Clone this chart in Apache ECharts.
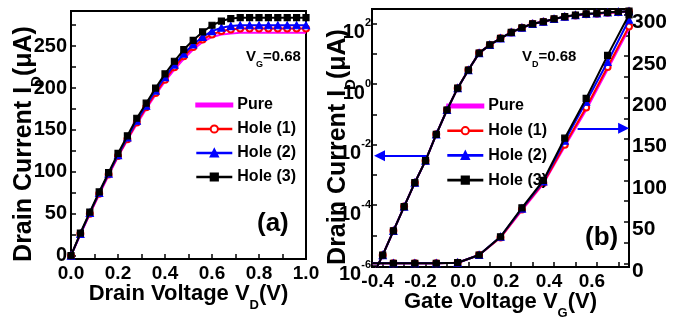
<!DOCTYPE html>
<html><head><meta charset="utf-8">
<script src="https://cdn.jsdelivr.net/npm/echarts@6/dist/echarts.min.js"></script>
<style>html,body{margin:0;padding:0;background:#fff}#c{width:681px;height:320px}</style>
</head><body><div id="c"></div>
<script>
// ---------- data ----------
const seriesNames = ['Pure', 'Hole (1)', 'Hole (2)', 'Hole (3)'];
// panel (a): drain current vs drain voltage (V_G = 0.68)
const vdX = [0,0.04,0.08,0.12,0.16,0.2,0.24,0.28,0.32,0.36,0.4,0.44,0.48,0.52,0.56,0.6,0.64,0.68,0.72,0.76,0.8,0.84,0.88,0.92,0.96,1.0];
const idPure  = [0,25,50,73,96,118,138,157,175,192,208,222,235,246,255,261,264,265,266,266,266,266,266,266,266,266];
const idHole1 = [0,26,50,74,97,119,139,159,177,194,210,225,238,249,258,264,268,270,271,271,271,271,271,271,271,271];
const idHole2 = [0,26,51,75,98,120,141,161,179,197,213,228,241,252,261,268,272,274,275,275,275,275,275,275,275,275];
const idHole3 = [0,27,52,76,99,122,143,164,182,200,217,232,246,257,267,275,280,283,284,284,284,284,284,284,284,284];
// panel (b): drain current vs gate voltage (V_D = 0.68), log scale (left axis)
const vgLogX = [-0.45,-0.4,-0.35,-0.3,-0.25,-0.2,-0.15,-0.1,-0.05,0,0.05,0.1,0.15,0.2,0.25,0.3,0.35,0.4,0.45,0.5,0.55,0.6,0.65,0.7,0.75];
const logHole3 = [4e-7,2.2e-6,1.4e-5,8.9e-5,5.5e-4,2.95e-3,2.2e-2,0.14,0.74,2.95,10.7,20,33,52,74,100,117,145,174,195,214,224,240,251,262];
const logHole2 = [4e-7,2.2e-6,1.4e-5,8.9e-5,5.5e-4,2.95e-3,2.2e-2,0.14,0.74,2.95,10.7,20,33,52,74,100,117,145,172,193,211,221,237,248,259];
const logHole1 = [4e-7,2.2e-6,1.4e-5,8.9e-5,5.5e-4,2.95e-3,2.2e-2,0.14,0.74,2.95,10.7,20,33,52,74,100,117,143,170,190,207,217,232,243,255];
const logPure  = [4e-7,2.2e-6,1.4e-5,8.9e-5,5.5e-4,2.95e-3,2.2e-2,0.14,0.74,2.95,10.7,20,33,52,74,100,117,143,170,190,207,217,232,243,255];
// panel (b): linear scale (right axis)
const vgLinX = [-0.45,-0.35,-0.25,-0.15,-0.05,0.05,0.15,0.25,0.35,0.45,0.55,0.65,0.75];
const linHole3 = [0,0,0,0,0.7,10,32,67,100,151,199,251,300];
const linHole2 = [0,0,0,0,0.7,10,32,66,99,148,195,243,294];
const linHole1 = [0,0,0,0,0.7,10,31,65,97,143,188,237,286];
const linPure  = [0,0,0,0,0.7,10,31,64,96,141,185,234,283];
// ticks / labels
const aXTicks = [0,0.1,0.2,0.3,0.4,0.5,0.6,0.7,0.8,0.9,1.0];
const aXLabels = [0,0.2,0.4,0.6,0.8,1.0];
const aYTicks = [0,25,50,75,100,125,150,175,200,225,250,275];
const aYLabels = [0,50,100,150,200,250];
const bXTicks = [-0.4,-0.3,-0.2,-0.1,0,0.1,0.2,0.3,0.4,0.5,0.6,0.7];
const bXLabels = [-0.4,-0.2,0,0.2,0.4,0.6];
const bRTicks = [0,25,50,75,100,125,150,175,200,225,250,275,300];
const bRLabels = [0,50,100,150,200,250,300];

// ---------- style ----------
const FR = "'Liberation Sans',Arial,sans-serif";
const colors = ['#ff00ff', '#ff0000', '#0000ff', '#000000'];
const symbols = ['none', 'emptyCircle', 'triangle', 'rect'];
const symSizes = [0, 6, 7, 6];

function pairs(xs, ys) { return xs.map((x, i) => [x, ys[i]]); }
function mk(i, xs, ys, gi, yi) {
  return {
    type: 'line', name: seriesNames[i], xAxisIndex: gi, yAxisIndex: yi,
    data: pairs(xs, ys), symbol: symbols[i], symbolSize: symSizes[i],
    showSymbol: symbols[i] !== 'none',
    lineStyle: { color: colors[i], width: 2 },
    itemStyle: { color: colors[i], borderColor: colors[i], borderWidth: 1.2 },
    z: 2 + i, clip: true
  };
}
const axLine = { show: true, onZero: false, lineStyle: { color: '#000', width: 2 } };
const tickStyle = (vals, len) => ({ show: true, inside: true, length: len || 5, customValues: vals, lineStyle: { color: '#000', width: 1.5 } });
const lbl = (vals, size, fmt, extra) => Object.assign({ customValues: vals, fontFamily: FR, fontWeight: 'bold', fontSize: size, color: '#000', formatter: fmt }, extra || {});
const subRich = (fs) => ({ s: { fontSize: fs, fontFamily: FR, fontWeight: 'bold', color: '#000', verticalAlign: 'bottom', lineHeight: fs } });

const series = [];
const aY = [idPure, idHole1, idHole2, idHole3];
for (let i = 0; i < 4; i++) series.push(mk(i, vdX, aY[i], 0, 0));
const bLog = [logPure, logHole1, logHole2, logHole3];
for (let i = 0; i < 4; i++) series.push(mk(i, vgLogX, bLog[i], 1, 1));
const bLin = [linPure, linHole1, linHole2, linHole3];
for (let i = 0; i < 4; i++) {
  const s = mk(i, vgLinX, bLin[i], 1, 2);
  s.data[0] = { value: s.data[0], symbol: 'none' };
  series.push(s);
}
// arrows pointing to the axis each curve family belongs to
const arrowStyle = { silent: true, symbol: ['none', 'triangle'], symbolSize: 11, label: { show: false },
  lineStyle: { color: '#0000ff', width: 2, type: 'solid' }, emphasis: { disabled: true } };
series[7].markLine = Object.assign({}, arrowStyle, { data: [[{ coord: [-0.19, 4.3e-3] }, { coord: [-0.415, 4.3e-3] }]] });
series[11].markLine = Object.assign({}, arrowStyle, { data: [[{ coord: [0.51, 163] }, { coord: [0.725, 163] }]] });

const legendData = [{ name: 'Pure', icon: 'path://M0,0M36,9M0,3H36V6H0Z' }, 'Hole (1)', 'Hole (2)', 'Hole (3)'];
const legendBase = {
  orient: 'vertical', itemWidth: 36, itemHeight: 9, itemGap: 8,
  lineStyle: { width: 2.6 },
  textStyle: { fontFamily: FR, fontWeight: 'bold', fontSize: 16, color: '#000' },
  data: legendData, selectedMode: false
};
const xName = (t) => ({ name: t, nameLocation: 'middle', nameGap: 17, nameMoveOverlap: false,
  nameTextStyle: { fontFamily: FR, fontWeight: 'bold', fontSize: 22, color: '#000', lineHeight: 36, rich: subRich(13) } });
const yName = (gap) => ({ name: 'Drain Current I{s|D}(μA)', nameLocation: 'middle', nameRotate: 90, nameGap: gap, nameMoveOverlap: false,
  nameTextStyle: { fontFamily: FR, fontWeight: 'bold', fontSize: 25, color: '#000', lineHeight: 40, padding: [0, 18, 0, 0], rich: subRich(15) } });

const option = {
  animation: false,
  backgroundColor: '#fff',
  grid: [
    { left: 71, top: 11, width: 235, height: 248, outerBoundsMode: 'none', show: true, borderColor: '#000', borderWidth: 2, backgroundColor: 'transparent' },
    { left: 372, top: 9, width: 257, height: 258, outerBoundsMode: 'none', show: true, borderColor: '#000', borderWidth: 2, backgroundColor: 'transparent' }
  ],
  xAxis: [
    Object.assign({ type: 'value', gridIndex: 0, min: 0, max: 1, axisLine: axLine, axisTick: tickStyle(aXTicks, 5), splitLine: { show: false },
      axisLabel: lbl(aXLabels, 19, v => v.toFixed(1), { margin: 5 }) }, xName('Drain Voltage V{s|D}(V)')),
    Object.assign({ type: 'value', gridIndex: 1, min: -0.45, max: 0.75, axisLine: axLine, axisTick: tickStyle(bXTicks, 5), splitLine: { show: false },
      axisLabel: lbl(bXLabels, 19, v => v.toFixed(1), { margin: 5, padding: [0, 10, 0, 0] }) }, xName('Gate Voltage V{s|G}(V)'))
  ],
  yAxis: [
    Object.assign({ type: 'value', gridIndex: 0, min: -4, max: 292, axisLine: axLine, axisTick: tickStyle(aYTicks, 5), splitLine: { show: false },
      axisLabel: lbl(aYLabels, 20, v => String(v), { margin: 4 }) }, yName(27)),
    Object.assign({ type: 'log', gridIndex: 1, logBase: 10, min: 8.9e-7, max: 309, axisLine: axLine,
      axisTick: { show: true, inside: true, length: 5, lineStyle: { color: '#000', width: 1.5 } }, splitLine: { show: false },
      axisLabel: { fontFamily: FR, fontWeight: 'bold', fontSize: 20, color: '#000', margin: 1, showMinLabel: true, showMaxLabel: true,
        padding: [18, 0, 0, 0],
        formatter: v => { const e = Math.log10(v); const r = Math.round(e); if (Math.abs(e - r) > 1e-6 || r % 2 !== 0) return ''; return '{b|10}{p|' + r + '}'; },
        rich: { b: { fontFamily: FR, fontWeight: 'bold', fontSize: 20, color: '#000', lineHeight: 30 },
                p: { fontFamily: FR, fontWeight: 'bold', fontSize: 11, color: '#000', verticalAlign: 'top', lineHeight: 11 } } } }, yName(14)),
    { type: 'value', gridIndex: 1, position: 'right', min: -4.5, max: 307, axisLine: axLine, axisTick: tickStyle(bRTicks, 5), splitLine: { show: false },
      axisLabel: lbl(bRLabels, 21, v => String(v), { margin: 3, verticalAlign: 'top', lineHeight: 15 }) }
  ],
  legend: [
    Object.assign({}, legendBase, { left: 190, top: 92 }),
    Object.assign({}, legendBase, { left: 441, top: 93, itemGap: 8.7 })
  ],
  graphic: [
    { type: 'text', left: 246, top: 44, style: { text: 'V{s|G}=0.68', fontFamily: FR, fontWeight: 'bold', fontSize: 15, fill: '#000', lineHeight: 25,
        rich: { s: { fontFamily: FR, fontWeight: 'bold', fontSize: 9, fill: '#000', verticalAlign: 'bottom', lineHeight: 9 } } } },
    { type: 'text', left: 522, top: 44, style: { text: 'V{s|D}=0.68', fontFamily: FR, fontWeight: 'bold', fontSize: 15, fill: '#000', lineHeight: 25,
        rich: { s: { fontFamily: FR, fontWeight: 'bold', fontSize: 9, fill: '#000', verticalAlign: 'bottom', lineHeight: 9 } } } },
    { type: 'text', left: 257, top: 211, style: { text: '(a)', fontFamily: FR, fontWeight: 'bold', fontSize: 26, fill: '#000' } },
    { type: 'text', left: 585, top: 225, style: { text: '(b)', fontFamily: FR, fontWeight: 'bold', fontSize: 26, fill: '#000' } }
  ],
  series: series
};
const chart = echarts.init(document.getElementById('c'), null, { renderer: 'canvas' });
chart.setOption(option);
</script>
</body></html>
